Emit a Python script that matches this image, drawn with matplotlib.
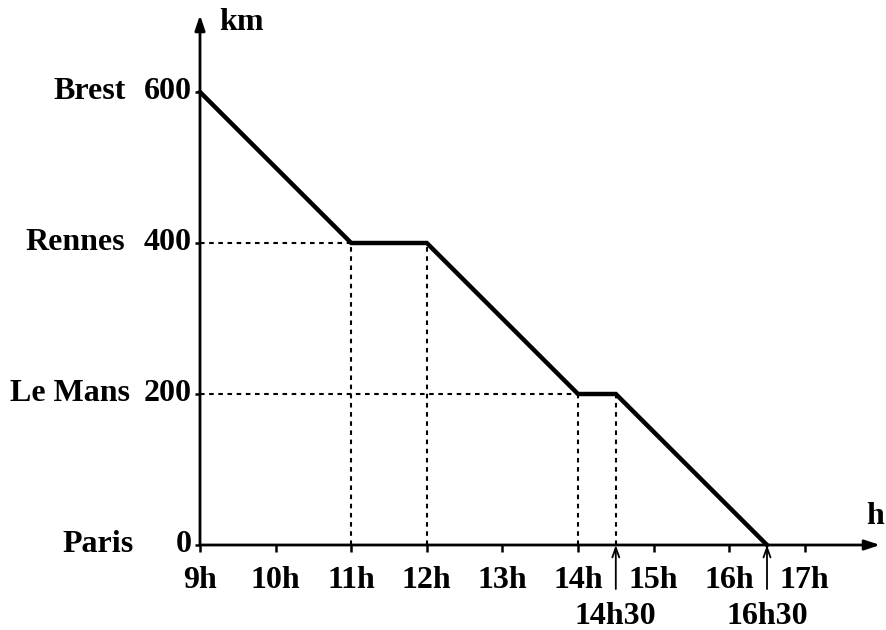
import matplotlib
matplotlib.use("Agg")
import matplotlib.pyplot as plt

times = [9, 11, 12, 14, 14.5, 16.5]
dist = [600, 400, 400, 200, 200, 0]
hour_ticks = [9, 10, 11, 12, 13, 14, 15, 16, 17]
hour_labels = ["9h", "10h", "11h", "12h", "13h", "14h", "15h", "16h", "17h"]
km_ticks = [0, 200, 400, 600]
cities = ["Paris", "Le Mans", "Rennes", "Brest"]
extra_times = [14.5, 16.5]
extra_labels = ["14h30", "16h30"]

plt.rcParams['font.family'] = ['Liberation Serif', 'DejaVu Serif']
FS = 23

W, H = 887, 630
fig = plt.figure(figsize=(W / 100, H / 100), dpi=100)
ax = fig.add_axes([0, 0, 1, 1])
ax.set_axis_off()

# pixel mapping: x = 200 + 75.6*(t-9), y = 545 - 0.755*km
px_per_h = 75.6
px_per_km = 0.755
x0, y0 = 200, 545
ax.set_xlim(9 - x0 / px_per_h, 9 + (W - x0) / px_per_h)
ax.set_ylim(-(H - y0) / px_per_km, y0 / px_per_km)

dx = 1 / px_per_h   # one pixel in hours
dy = 1 / px_per_km  # one pixel in km

# axes with arrows
ax.annotate("", xy=(9 + 680 * dx, 0), xytext=(9, 0),
            arrowprops=dict(arrowstyle="-|>,head_length=0.9,head_width=0.3", lw=2, color="black",
                            shrinkA=0, shrinkB=0))
ax.annotate("", xy=(9, 530 * dy), xytext=(9, 0),
            arrowprops=dict(arrowstyle="-|>,head_length=0.9,head_width=0.3", lw=2, color="black",
                            shrinkA=0, shrinkB=0))

ax.text(9 + 19 * dx, 522 * dy, "km", fontsize=FS, fontweight="bold", ha="left", va="center")
ax.text(9 + 675 * dx, 28 * dy, "h", fontsize=FS, fontweight="bold", ha="center", va="center")

# x ticks
for t, lab in zip(hour_ticks, hour_labels):
    ax.plot([t, t], [0, -7 * dy], color="black", lw=1.8, solid_capstyle="butt")
    ax.text(t, -36 * dy, lab, fontsize=FS, fontweight="bold", ha="center", va="center")

# y ticks
for k, c in zip(km_ticks, cities):
    ax.plot([9 - 5 * dx, 9], [k, k], color="black", lw=1.8, solid_capstyle="butt")
    ax.text(9 - 8 * dx, k, str(k), fontsize=FS, fontweight="bold", ha="right", va="center")

city_x = {"Paris": 62, "Le Mans": 10, "Rennes": 25, "Brest": 53}
for k, c in zip(km_ticks, cities):
    ax.text(9 + (city_x[c] - x0) * dx, k, c, fontsize=FS, fontweight="bold", ha="left", va="center")

# dotted guides
dash = dict(color="black", lw=1.5, linestyle=(0, (2.2, 2.2)))
ax.plot([9, 11], [400, 400], **dash)
ax.plot([9, 14], [200, 200], **dash)
ax.plot([11, 11], [0, 400], **dash)
ax.plot([12, 12], [0, 400], **dash)
ax.plot([14, 14], [0, 200], **dash)
ax.plot([14.5, 14.5], [0, 200], **dash)

# main line
ax.plot(times, dist, color="black", lw=3.2, solid_joinstyle="miter", zorder=5)

# extra arrows
for t, lab in zip(extra_times, extra_labels):
    ax.annotate("", xy=(t, 0), xytext=(t, -44 * dy),
                arrowprops=dict(arrowstyle="->,head_length=0.7,head_width=0.25", lw=1.3, color="black",
                                shrinkA=0, shrinkB=0))
    ax.text(t, -72 * dy, lab, fontsize=FS, fontweight="bold", ha="center", va="center")

fig.savefig("out.png", dpi=100)
